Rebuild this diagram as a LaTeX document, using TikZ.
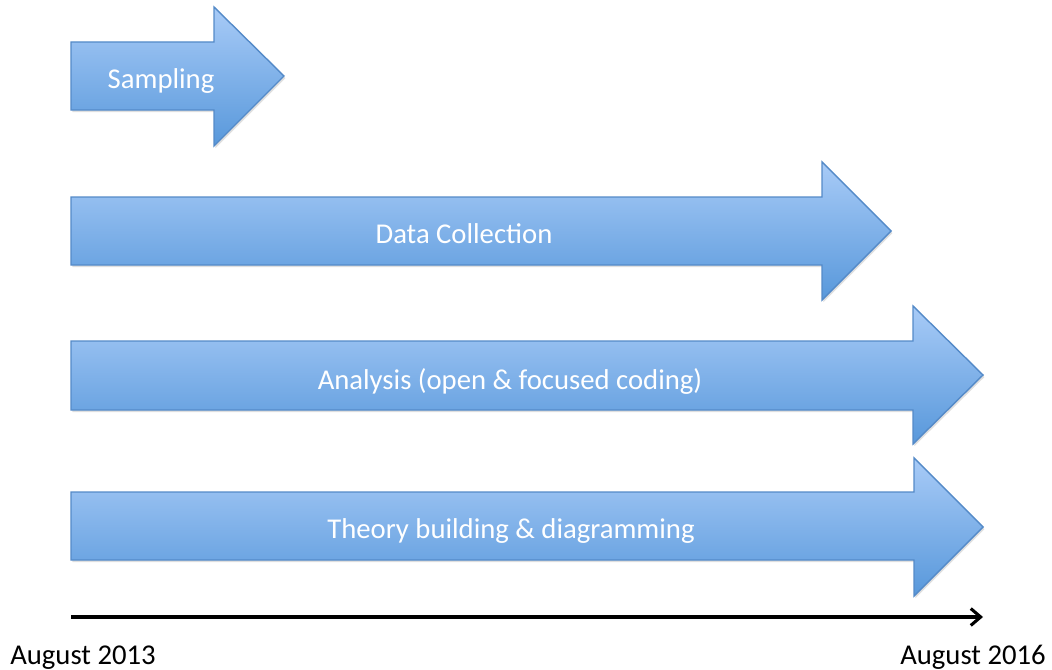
\documentclass[tikz,border=0pt]{standalone}
\usepackage{fontspec}
\setmainfont{Carlito}
\usetikzlibrary{arrows.meta,shadows}
\definecolor{phasetop}{RGB}{168,203,247}
\definecolor{phasebot}{RGB}{88,152,219}
\definecolor{phaseline}{RGB}{84,138,200}
\tikzset{
    phase/.style={draw=phaseline, line width=1pt, top color=phasetop,
        bottom color=phasebot, line join=miter,
        drop shadow={shadow xshift=1pt, shadow yshift=-1.5pt, opacity=0.25}},
    phaselabel/.style={text=white, anchor=base, font=\fontsize{20.4}{24}\selectfont},
    datelabel/.style={text=black, anchor=base, font=\fontsize{20.4}{24}\selectfont},
}
\begin{document}
\begin{tikzpicture}[x=0.025cm, y=-0.025cm]
    \useasboundingbox (0, 0) rectangle (1052, 670);
    \draw[phase] (71, 42) -- (214, 42) -- (214, 7) -- (284, 76) -- (214, 146) -- (214, 110) -- (71, 110) -- cycle;
    \draw[phase] (71, 197) -- (822, 197) -- (822, 162) -- (891, 231) -- (822, 300) -- (822, 265) -- (71, 265) -- cycle;
    \draw[phase] (71, 341) -- (913, 341) -- (913, 306) -- (983, 375) -- (913, 444) -- (913, 410) -- (71, 410) -- cycle;
    \draw[phase] (71, 492) -- (914, 492) -- (914, 458) -- (983, 527) -- (914, 596) -- (914, 560) -- (71, 560) -- cycle;
    \node[phaselabel] (sampling) at (161, 89) {Sampling};
    \node[phaselabel] (collection) at (464, 243) {Data Collection};
    \node[phaselabel] (analysis) at (510, 389) {Analysis (open \& focused coding)};
    \node[phaselabel] (theory) at (511, 538) {Theory building \& diagramming};
    \coordinate (T_0) at (71, 617);
    \coordinate (T_1) at (983, 617);
    \draw[line width=2.2pt, -{Straight Barb[length=7pt, width=12pt]},
        drop shadow={shadow xshift=0.5pt, shadow yshift=-1pt, opacity=0.2}] (T_0) -- (T_1);
    \node[datelabel] (start) at (83, 664) {August 2013};
    \node[datelabel] (finish) at (973, 664) {August 2016};
\end{tikzpicture}
\end{document}
